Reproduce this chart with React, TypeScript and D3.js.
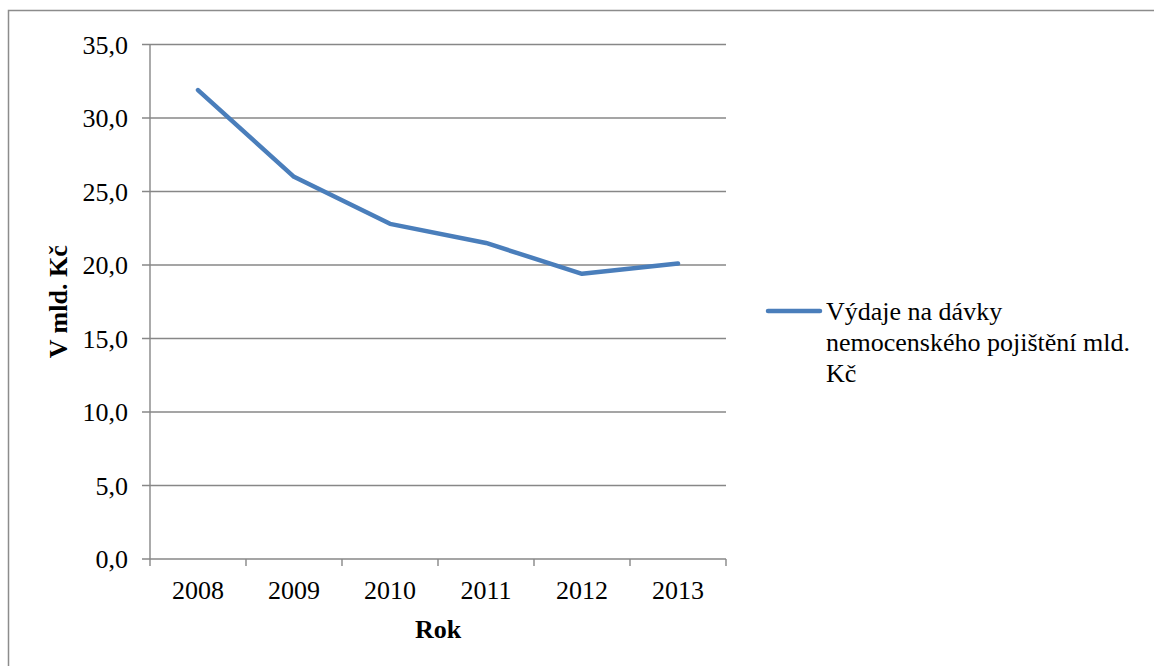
import * as d3 from "d3";
import { useEffect, useRef } from "react";

const years = ["2008", "2009", "2010", "2011", "2012", "2013"];
const values = [31.9, 26.0, 22.8, 21.5, 19.4, 20.1];
const yTicks = [0, 5, 10, 15, 20, 25, 30, 35];
const legendLines = ["Výdaje na dávky", "nemocenského pojištění mld.", "Kč"];

const svgWidth = 1154;
const svgHeight = 666;
const plotLeft = 150;
const plotRight = 726;
const plotTop = 44.5;
const plotBottom = 559;
const font = "'Liberation Serif', 'Times New Roman', serif";

const App = () => {
    const svgRef = useRef<SVGSVGElement>(null);

    useEffect(() => {
        if (svgRef.current) {
            drawChart();
        }
    }, [svgRef]);

    const drawChart = () => {
        const svg = d3.select(svgRef.current);
        svg.selectAll("*").remove();

        // outer frame (runs off the right and bottom edges)
        svg.append("rect")
            .attr("x", 8.5)
            .attr("y", 10.5)
            .attr("width", 1200)
            .attr("height", 700)
            .attr("fill", "white")
            .attr("stroke", "#8c8c8c")
            .attr("stroke-width", 1.5);

        const scaleX = d3.scaleBand().domain(years).range([plotLeft, plotRight]);
        const scaleY = d3.scaleLinear().domain([0, 35]).range([plotBottom, plotTop]);

        // horizontal grid lines
        svg.append("g")
            .selectAll("line")
            .data(yTicks)
            .join("line")
            .attr("x1", plotLeft - 8)
            .attr("x2", plotRight)
            .attr("y1", (d) => scaleY(d))
            .attr("y2", (d) => scaleY(d))
            .attr("stroke", "#878787")
            .attr("stroke-width", 1.4);

        // y axis line
        svg.append("line")
            .attr("x1", plotLeft)
            .attr("x2", plotLeft)
            .attr("y1", plotTop)
            .attr("y2", plotBottom)
            .attr("stroke", "#878787")
            .attr("stroke-width", 1.4);

        // x tick marks at band boundaries
        const boundaries = years.map((y) => scaleX(y) as number).concat([plotRight]);
        svg.append("g")
            .selectAll("line")
            .data(boundaries)
            .join("line")
            .attr("x1", (d) => d)
            .attr("x2", (d) => d)
            .attr("y1", plotBottom)
            .attr("y2", plotBottom + 7)
            .attr("stroke", "#878787")
            .attr("stroke-width", 1.4);

        // y tick labels
        svg.append("g")
            .selectAll("text")
            .data(yTicks)
            .join("text")
            .attr("x", 128)
            .attr("y", (d) => scaleY(d) + 9)
            .attr("text-anchor", "end")
            .attr("font-family", font)
            .attr("font-size", 26)
            .attr("fill", "#000")
            .text((d) => d.toFixed(1).replace(".", ","));

        // x tick labels
        svg.append("g")
            .selectAll("text")
            .data(years)
            .join("text")
            .attr("x", (d) => (scaleX(d) as number) + scaleX.bandwidth() / 2)
            .attr("y", 599)
            .attr("text-anchor", "middle")
            .attr("font-family", font)
            .attr("font-size", 26)
            .attr("fill", "#000")
            .text((d) => d);

        // axis titles
        svg.append("text")
            .attr("x", (plotLeft + plotRight) / 2)
            .attr("y", 638)
            .attr("text-anchor", "middle")
            .attr("font-family", font)
            .attr("font-size", 26)
            .attr("font-weight", "bold")
            .text("Rok");

        svg.append("text")
            .attr("transform", `translate(67,${(plotTop + plotBottom) / 2}) rotate(-90)`)
            .attr("text-anchor", "middle")
            .attr("font-family", font)
            .attr("font-size", 26)
            .attr("font-weight", "bold")
            .text("V mld. Kč");

        // data line
        const line = d3
            .line<number>()
            .x((d, i) => (scaleX(years[i]) as number) + scaleX.bandwidth() / 2)
            .y((d) => scaleY(d));
        svg.append("path")
            .datum(values)
            .attr("fill", "none")
            .attr("stroke", "#4a7ebb")
            .attr("stroke-width", 4.5)
            .attr("stroke-linejoin", "round")
            .attr("stroke-linecap", "round")
            .attr("d", line);

        // legend
        svg.append("line")
            .attr("x1", 768)
            .attr("x2", 820)
            .attr("y1", 311)
            .attr("y2", 311)
            .attr("stroke", "#4a7ebb")
            .attr("stroke-width", 4.5)
            .attr("stroke-linecap", "round");

        svg.append("g")
            .selectAll("text")
            .data(legendLines)
            .join("text")
            .attr("x", 826)
            .attr("y", (d, i) => 320 + i * 31)
            .attr("font-family", font)
            .attr("font-size", 26)
            .attr("fill", "#000")
            .text((d) => d);
    };

    return (
        <svg
            ref={svgRef}
            width={svgWidth}
            height={svgHeight}
            style={{ position: "absolute", left: 0, top: 0, background: "white" }}
        />
    );
};

export default App;
